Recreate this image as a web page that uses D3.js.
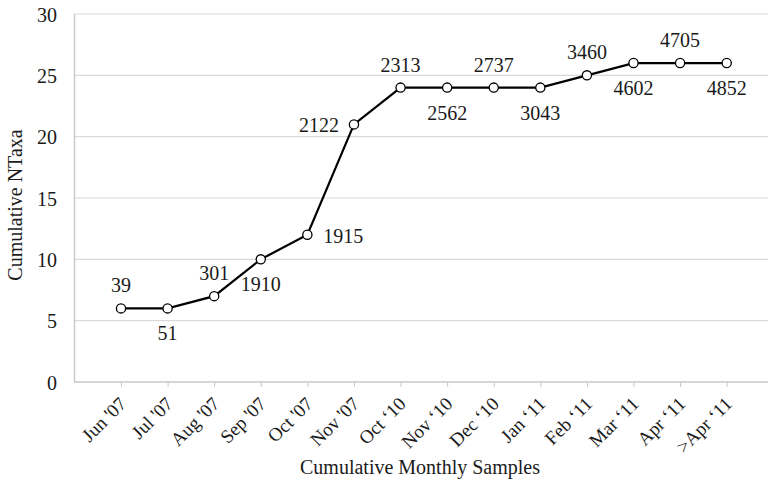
<!DOCTYPE html>
<html>
<head>
<meta charset="utf-8">
<script src="https://cdn.jsdelivr.net/npm/d3@7"></script>
<style>
  html, body { margin: 0; padding: 0; background: #fff; }
  svg text { font-family: "Liberation Serif", "Times New Roman", "DejaVu Serif", serif !important; fill: #1a1a1a; }
</style>
</head>
<body>
<svg id="chart" width="768" height="482"></svg>
<script>
// Monthly sampling periods (x categories)
const months = ["Jun '07", "Jul '07", "Aug '07", "Sep '07", "Oct '07", "Nov '07",
  "Oct \u201810", "Nov \u201810", "Dec \u201810", "Jan \u201811", "Feb \u201811", "Mar \u201811", "Apr \u201811", ">Apr \u201811"];
// Cumulative number of taxa at each period
const ntaxa = [6, 6, 7, 10, 12, 21, 24, 24, 24, 24, 25, 26, 26, 26];
// Cumulative sample counts shown beside each point
const samples = [39, 51, 301, 1910, 1915, 2122, 2313, 2562, 2737, 3043, 3460, 4602, 4705, 4852];
// Where each count label sits relative to its point
const labelPos = ["above", "below", "above", "below", "right", "left", "above",
  "below", "above", "below", "above", "below", "above", "below"];
const yTicks = [0, 5, 10, 15, 20, 25, 30];

const FONT = "'Liberation Serif', 'Times New Roman', serif";
const svg = d3.select("#chart").attr("font-family", FONT);
const plot = { left: 74, right: 768, top: 14, bottom: 382 };

const x = d3.scalePoint().domain(months).range([121, 726.7]);
const y = d3.scaleLinear().domain([0, 30]).range([plot.bottom, plot.top]);

// Horizontal gridlines
svg.append("g")
  .selectAll("line")
  .data(yTicks.filter(d => d > 0))
  .join("line")
  .attr("x1", plot.left).attr("x2", plot.right)
  .attr("y1", d => y(d)).attr("y2", d => y(d))
  .attr("stroke", "#d9d9d9").attr("stroke-width", 1.2);

// Y axis
const yAxis = svg.append("g")
  .attr("transform", `translate(${plot.left},0)`)
  .call(d3.axisLeft(y).tickValues(yTicks).tickSize(0).tickPadding(17))
  .attr("font-family", FONT);
yAxis.select(".domain").attr("stroke", "#c8c8c8").attr("stroke-width", 1.4);
yAxis.selectAll("text").attr("font-size", 20).attr("dy", "0.35em");

// X axis
const xAxis = svg.append("g")
  .attr("transform", `translate(0,${plot.bottom})`)
  .call(d3.axisBottom(x).tickSize(5).tickSizeOuter(0))
  .attr("font-family", FONT);
xAxis.select(".domain")
  .attr("d", `M${plot.left},0H${plot.right}`)
  .attr("stroke", "#c8c8c8").attr("stroke-width", 1.4);
xAxis.selectAll(".tick line").attr("stroke", "#c8c8c8").attr("stroke-width", 1);
xAxis.selectAll(".tick text")
  .attr("font-size", 19)
  .attr("text-anchor", "end")
  .attr("dy", null)
  .attr("y", 0)
  .attr("transform", "translate(6,23) rotate(-45)");

// Axis titles
svg.append("text")
  .attr("x", 420).attr("y", 474)
  .attr("text-anchor", "middle")
  .attr("font-size", 20)
  .text("Cumulative Monthly Samples");
svg.append("text")
  .attr("transform", "translate(22,205) rotate(-90)")
  .attr("text-anchor", "middle")
  .attr("font-size", 20)
  .text("Cumulative NTaxa");

// Series line
const pts = months.map((m, i) => ({ m, v: ntaxa[i], n: samples[i], pos: labelPos[i] }));
svg.append("path")
  .datum(pts)
  .attr("fill", "none")
  .attr("stroke", "#000")
  .attr("stroke-width", 2.2)
  .attr("d", d3.line().x(d => x(d.m)).y(d => y(d.v)));

// Markers
svg.append("g")
  .selectAll("circle")
  .data(pts)
  .join("circle")
  .attr("cx", d => x(d.m)).attr("cy", d => y(d.v))
  .attr("r", 4.6)
  .attr("fill", "#fff")
  .attr("stroke", "#000")
  .attr("stroke-width", 1.3);

// Sample-count labels
svg.append("g")
  .selectAll("text")
  .data(pts)
  .join("text")
  .attr("font-size", 20)
  .attr("dy", "0.35em")
  .attr("text-anchor", d => d.pos === "left" ? "end" : d.pos === "right" ? "start" : "middle")
  .attr("x", d => x(d.m) + (d.pos === "left" ? -15 : d.pos === "right" ? 16 : 0))
  .attr("y", d => y(d.v) + (d.pos === "above" ? -23 : d.pos === "below" ? 25 : 1))
  .text(d => d.n);
</script>
</body>
</html>
